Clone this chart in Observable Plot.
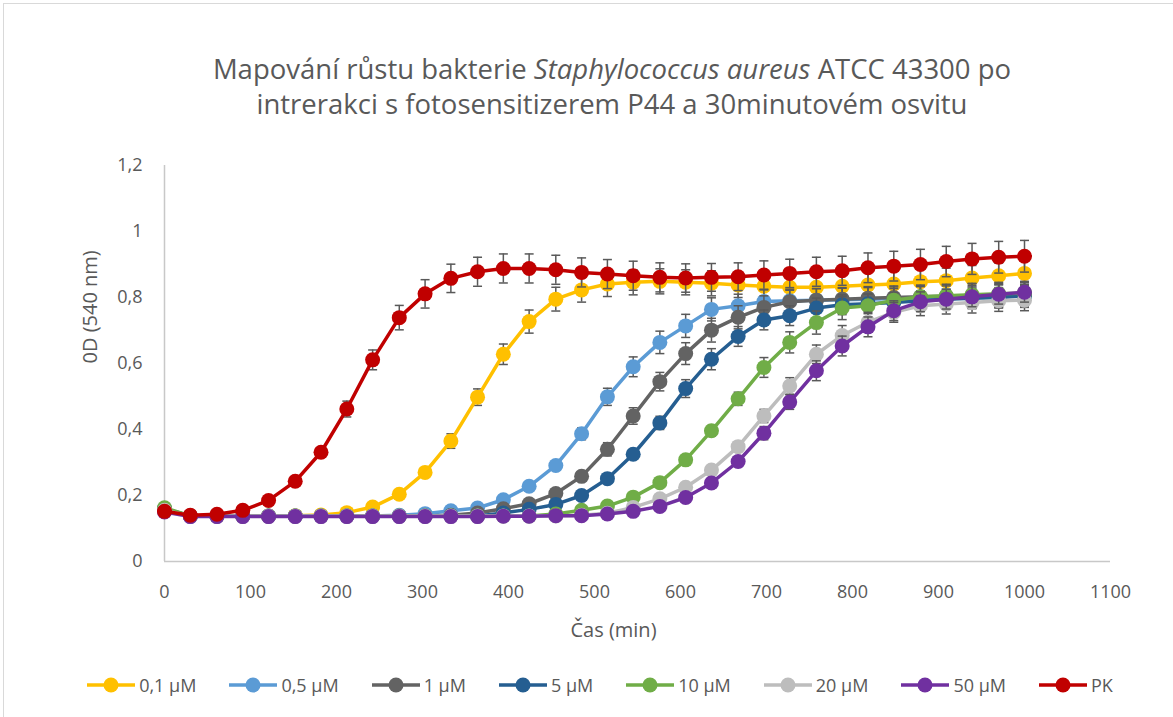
<!DOCTYPE html>
<html>
<head>
<meta charset="utf-8">
<script src="https://cdn.jsdelivr.net/npm/d3@7"></script>
<script src="https://cdn.jsdelivr.net/npm/@observablehq/plot@0.6"></script>
<style>
  html, body { margin: 0; padding: 0; background: #fff; width: 1173px; height: 717px; overflow: hidden; }
  body { position: relative; font-family: "Open Sans", sans-serif; color: #595959; }
  #frame { position: absolute; left: 3px; top: 3px; width: 1240px; height: 800px; border: 1px solid #d9d9d9; box-sizing: border-box; }
  #title { position: absolute; left: 0; top: 51px; width: 1224px; text-align: center; font-size: 27.5px; line-height: 35px; color: #595959; }
  #chart { position: absolute; left: 0; top: 150px; }
  #legend { position: absolute; left: 0; top: 672px; width: 1200px; height: 26px; display: flex; justify-content: center; align-items: center; font-size: 18px; color: #595959; }
  .item { display: flex; align-items: center; margin-right: 33px; }
  .item:last-child { margin-right: 0; }
  .item svg { margin-right: 4px; }
</style>
</head>
<body>
<div id="frame"></div>
<div id="title">Mapování růstu bakterie <i>Staphylococcus aureus</i> ATCC 43300 po<br>intrerakci s fotosensitizerem P44 a 30minutovém osvitu</div>
<div id="chart"></div>
<div id="legend"></div>
<script>
// ---- data ----
const times = [0,30,61,91,121,152,182,212,242,273,303,333,364,394,424,455,485,515,545,576,606,636,667,697,727,758,788,818,848,879,909,939,970,1000];

const seriesNames = ["0,1 µM","0,5 µM","1 µM","5 µM","10 µM","20 µM","50 µM","PK"];
const seriesColors = ["#FFC000","#5B9BD5","#636363","#255E91","#70AD47","#BDBDBD","#7030A0","#C00000"];

const v01 = [0.155,0.138,0.138,0.138,0.138,0.139,0.141,0.148,0.165,0.204,0.270,0.365,0.498,0.628,0.727,0.795,0.823,0.841,0.846,0.849,0.846,0.843,0.838,0.834,0.831,0.831,0.834,0.838,0.841,0.848,0.851,0.859,0.866,0.873];
const v05 = [0.160,0.138,0.138,0.138,0.138,0.138,0.138,0.138,0.138,0.140,0.145,0.154,0.162,0.187,0.228,0.291,0.387,0.499,0.590,0.664,0.714,0.764,0.775,0.788,0.790,0.792,0.793,0.795,0.797,0.798,0.800,0.801,0.803,0.805];
const v1 = [0.158,0.138,0.138,0.138,0.138,0.138,0.138,0.138,0.138,0.138,0.138,0.140,0.147,0.160,0.175,0.206,0.258,0.340,0.441,0.545,0.630,0.701,0.740,0.770,0.787,0.792,0.795,0.798,0.800,0.802,0.804,0.806,0.808,0.810];
const v5 = [0.160,0.138,0.138,0.138,0.138,0.138,0.138,0.138,0.138,0.138,0.138,0.138,0.138,0.147,0.158,0.173,0.200,0.251,0.325,0.420,0.524,0.613,0.682,0.732,0.745,0.768,0.778,0.781,0.785,0.790,0.795,0.798,0.800,0.805];
const v10 = [0.163,0.138,0.138,0.138,0.138,0.138,0.138,0.138,0.138,0.138,0.138,0.138,0.138,0.138,0.138,0.144,0.155,0.168,0.195,0.239,0.308,0.396,0.493,0.588,0.664,0.724,0.768,0.775,0.792,0.802,0.805,0.808,0.811,0.814];
const v20 = [0.155,0.138,0.138,0.138,0.138,0.138,0.138,0.138,0.138,0.138,0.138,0.138,0.138,0.138,0.138,0.138,0.140,0.146,0.164,0.190,0.225,0.277,0.348,0.441,0.532,0.628,0.685,0.725,0.755,0.775,0.780,0.785,0.790,0.792];
const v50 = [0.150,0.136,0.136,0.136,0.136,0.136,0.136,0.136,0.136,0.136,0.136,0.136,0.136,0.137,0.137,0.139,0.139,0.144,0.152,0.167,0.194,0.238,0.303,0.389,0.483,0.578,0.653,0.711,0.760,0.787,0.795,0.802,0.810,0.816];
const vPK = [0.152,0.140,0.143,0.155,0.185,0.243,0.331,0.462,0.611,0.739,0.811,0.858,0.878,0.888,0.888,0.884,0.876,0.871,0.866,0.861,0.859,0.861,0.863,0.868,0.873,0.878,0.881,0.890,0.895,0.900,0.909,0.917,0.922,0.925];

// standard deviations (error bars)
const e01 = [0.005,0.005,0.005,0.005,0.005,0.005,0.005,0.005,0.005,0.008,0.012,0.022,0.025,0.031,0.035,0.036,0.037,0.038,0.038,0.038,0.038,0.038,0.038,0.038,0.038,0.038,0.038,0.038,0.038,0.038,0.038,0.038,0.038,0.038];
const e05 = [0.005,0.005,0.005,0.005,0.005,0.005,0.005,0.005,0.005,0.005,0.005,0.005,0.005,0.006,0.008,0.012,0.018,0.026,0.030,0.034,0.035,0.035,0.035,0.035,0.035,0.035,0.035,0.035,0.035,0.035,0.035,0.035,0.035,0.035];
const e1 = [0.005,0.005,0.005,0.005,0.005,0.005,0.005,0.005,0.005,0.005,0.005,0.005,0.005,0.005,0.006,0.008,0.012,0.020,0.025,0.028,0.033,0.036,0.035,0.035,0.035,0.035,0.035,0.035,0.035,0.035,0.035,0.035,0.035,0.035];
const e5 = [0.005,0.005,0.005,0.005,0.005,0.005,0.005,0.005,0.005,0.005,0.005,0.005,0.005,0.005,0.005,0.006,0.008,0.010,0.012,0.020,0.027,0.032,0.030,0.030,0.030,0.030,0.030,0.030,0.030,0.030,0.030,0.030,0.030,0.030];
const e10 = [0.005,0.005,0.005,0.005,0.005,0.005,0.005,0.005,0.005,0.005,0.005,0.005,0.005,0.005,0.005,0.005,0.005,0.006,0.008,0.010,0.012,0.016,0.020,0.030,0.032,0.035,0.035,0.035,0.035,0.035,0.035,0.035,0.035,0.035];
const e20 = [0.005,0.005,0.005,0.005,0.005,0.005,0.005,0.005,0.005,0.005,0.005,0.005,0.005,0.005,0.005,0.005,0.005,0.005,0.006,0.008,0.010,0.012,0.015,0.020,0.025,0.028,0.030,0.030,0.030,0.030,0.030,0.032,0.032,0.032];
const e50 = [0.005,0.005,0.005,0.005,0.005,0.005,0.005,0.005,0.005,0.005,0.005,0.005,0.005,0.005,0.005,0.005,0.005,0.005,0.006,0.008,0.010,0.012,0.015,0.020,0.022,0.030,0.030,0.030,0.030,0.030,0.030,0.030,0.030,0.030];
const ePK = [0.005,0.005,0.005,0.005,0.005,0.006,0.010,0.024,0.030,0.037,0.043,0.043,0.044,0.044,0.044,0.044,0.044,0.044,0.044,0.044,0.043,0.042,0.042,0.043,0.043,0.044,0.044,0.045,0.045,0.046,0.046,0.047,0.048,0.048];

const xTicks = [0,100,200,300,400,500,600,700,800,900,1000,1100];
const yTicks = [0,0.2,0.4,0.6,0.8,1,1.2];
const xLabel = "Čas (min)";
const yLabel = "0D (540 nm)";

// ---- build ----
const values = [v01, v05, v1, v5, v10, v20, v50, vPK];
const errors = [e01, e05, e1, e5, e10, e20, e50, ePK];

const fontFamily = '"Open Sans", sans-serif';

const capSymbol = {
  draw(ctx, size) {
    const hw = Math.sqrt(size / Math.PI);
    ctx.moveTo(-hw, 0);
    ctx.lineTo(hw, 0);
  }
};

const marks = [
  Plot.ruleY([0], {stroke: "#c8c8c8", strokeWidth: 1.5}),
  Plot.ruleX([0], {stroke: "#c8c8c8", strokeWidth: 1.5})
];

values.forEach((vals, si) => {
  const rows = times.map((t, i) => ({t, v: vals[i], lo: vals[i] - errors[si][i], hi: vals[i] + errors[si][i]}));
  const color = seriesColors[si];
  marks.push(
    Plot.ruleX(rows, {x: "t", y1: "lo", y2: "hi", stroke: "#595959", strokeWidth: 1.5}),
    Plot.dot(rows, {x: "t", y: "lo", r: 4.5, symbol: capSymbol, stroke: "#595959", strokeWidth: 1.5, fill: "none"}),
    Plot.dot(rows, {x: "t", y: "hi", r: 4.5, symbol: capSymbol, stroke: "#595959", strokeWidth: 1.5, fill: "none"}),
    Plot.line(rows, {x: "t", y: "v", stroke: color, strokeWidth: 3.5, strokeLinejoin: "round"}),
    Plot.dot(rows, {x: "t", y: "v", r: 7.5, fill: color, stroke: "none"})
  );
});

marks.push(
  Plot.text([xLabel], {frameAnchor: "bottom", dy: 75, dx: -24, fontSize: 20, fill: "#595959"}),
  Plot.text([yLabel], {frameAnchor: "left", dx: -74, rotate: -90, fontSize: 20, fill: "#595959"})
);

const chart = Plot.plot({
  width: 1173,
  height: 500,
  marginLeft: 164,
  marginRight: 63,
  marginTop: 15,
  marginBottom: 89,
  style: {fontFamily, fontSize: "18px", color: "#595959", background: "transparent", overflow: "visible"},
  x: {domain: [0, 1100], ticks: xTicks, tickSize: 0, tickPadding: 24, label: null, tickFormat: d => String(d)},
  y: {domain: [0, 1.2], ticks: yTicks, tickSize: 0, tickPadding: 22, label: null, tickFormat: d => String(d).replace(".", ",")},
  marks
});
document.getElementById("chart").appendChild(chart);

// ---- legend ----
const legend = document.getElementById("legend");
seriesNames.forEach((name, i) => {
  const item = document.createElement("div");
  item.className = "item";
  item.innerHTML = `<svg width="48" height="20"><line x1="0" y1="10" x2="48" y2="10" stroke="${seriesColors[i]}" stroke-width="3.5"/><circle cx="24" cy="10" r="7.5" fill="${seriesColors[i]}"/></svg><span>${name}</span>`;
  legend.appendChild(item);
});
</script>
</body>
</html>
